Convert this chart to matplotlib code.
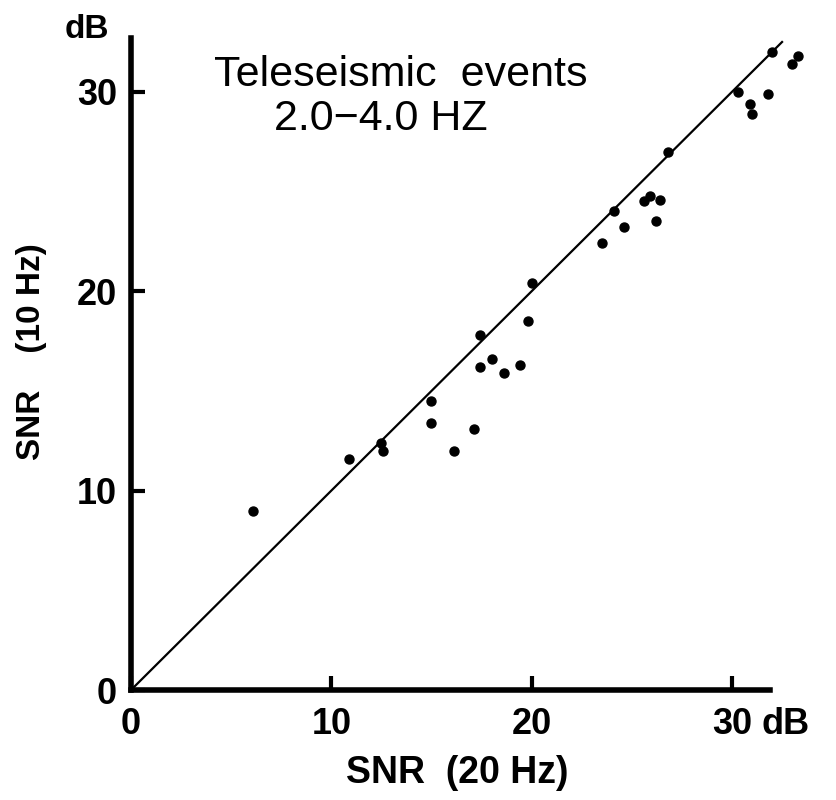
import matplotlib
matplotlib.use("Agg")
import matplotlib.pyplot as plt
import numpy as np

# SNR at 20 Hz (x) vs SNR at 10 Hz (y), teleseismic events, dB
snr_20hz = [6.1, 10.9, 12.5, 12.6, 15.0, 15.0, 17.1, 16.1,
            20.0, 19.8, 17.4, 18.0, 17.4, 18.6, 19.4,
            23.5, 24.1, 24.6, 25.6, 25.9, 26.4, 26.2, 26.8,
            30.3, 30.9, 31.0, 31.8, 32.0, 33.3, 33.0]
snr_10hz = [9.0, 11.6, 12.4, 12.0, 14.5, 13.4, 13.1, 12.0,
            20.4, 18.5, 17.8, 16.6, 16.2, 15.9, 16.3,
            22.4, 24.0, 23.2, 24.5, 24.8, 24.6, 23.5, 27.0,
            30.0, 29.4, 28.9, 29.9, 32.0, 31.8, 31.4]
ticks = [0, 10, 20, 30]
line_end = 32.5

plt.rcParams['font.family'] = ['Liberation Sans', 'DejaVu Sans']

fig = plt.figure(figsize=(8.36, 8.0), dpi=100)
ax = fig.add_axes([0.1567, 0.1375, 0.7644, 0.815])

ax.plot([0, line_end], [0, line_end], color='black', lw=1.6, clip_on=False)
ax.scatter(snr_20hz, snr_10hz, s=42, color='black', zorder=3, clip_on=False)

ax.set_xlim(0, 31.9)
ax.set_ylim(0, 32.7)
for side in ['top', 'right']:
    ax.spines[side].set_visible(False)
for side in ['left', 'bottom']:
    ax.spines[side].set_linewidth(4)

xpad = 12
ax.set_xticks(ticks)
ax.set_yticks(ticks)
ax.tick_params(direction='in', length=10, width=3, labelsize=26)
ax.tick_params(axis='x', pad=xpad)
ax.tick_params(axis='y', pad=10)
for lab in ax.get_xticklabels() + ax.get_yticklabels():
    lab.set_fontweight('bold')

# units: "dB" next to the last x tick label, same line
ax.annotate('dB', xy=(ticks[-1], 0), xycoords=('data', 'axes fraction'),
            xytext=(21, -xpad), textcoords='offset points',
            fontsize=26, fontweight='bold', ha='left', va='top',
            annotation_clip=False)
fig.text(87 / 836, 1 - 38 / 800, 'dB', fontsize=24, fontweight='bold',
         ha='center', va='baseline')

# axis labels
fig.text(457 / 836, 1 - 783 / 800, 'SNR  (20 Hz)', fontsize=27,
         fontweight='bold', ha='center', va='baseline')
fig.text(32 / 836, 1 - 352 / 800, 'SNR    (10 Hz)', fontsize=24,
         fontweight='bold', ha='center', va='center', rotation=90)

# title block
fig.text(401 / 836, 1 - 86 / 800, 'Teleseismic  events', fontsize=31,
         ha='center', va='baseline')
fig.text(381 / 836, 1 - 130 / 800, '2.0\u22124.0 HZ', fontsize=31,
         ha='center', va='baseline')

fig.savefig('out.png', dpi=100)
